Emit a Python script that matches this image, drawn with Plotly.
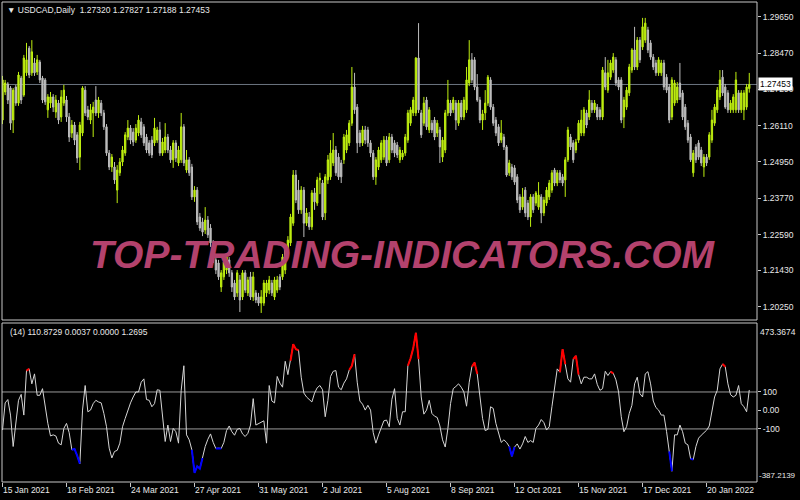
import plotly.graph_objects as go

# ---------------- data ----------------
date_tick_pos = [0, 24, 48, 72, 96, 120, 144, 168, 192, 216, 240, 264]
date_labels = ['15 Jan 2021', '18 Feb 2021', '24 Mar 2021', '27 Apr 2021', '31 May 2021',
               '2 Jul 2021', '5 Aug 2021', '8 Sep 2021', '12 Oct 2021', '15 Nov 2021',
               '17 Dec 2021', '20 Jan 2022']

price_ticks = [1.29650, 1.28470, 1.27290, 1.26110, 1.24950, 1.23770, 1.22590, 1.21430, 1.20250]
cci_ticks = [100, 0, -100]
cci_tick_text = ['100', '0.00', '-100']
cci_max, cci_min = 473.3674, -387.2139
last_price = 1.27453

open_ = [
    1.2630, 1.2721, 1.2747, 1.2734, 1.2630, 1.2737, 1.2685, 1.2766, 1.2711, 1.2783,
    1.2863, 1.2783, 1.2815, 1.2786, 1.2818, 1.2766, 1.2760, 1.2663, 1.2685, 1.2705,
    1.2656, 1.2685, 1.2640, 1.2685, 1.2695, 1.2640, 1.2588, 1.2614, 1.2582, 1.2510,
    1.2588, 1.2727, 1.2663, 1.2630, 1.2653, 1.2695, 1.2653, 1.2685, 1.2653, 1.2608,
    1.2523, 1.2478, 1.2478, 1.2403, 1.2459, 1.2494, 1.2523, 1.2575, 1.2604, 1.2591,
    1.2565, 1.2588, 1.2624, 1.2608, 1.2575, 1.2556, 1.2565, 1.2556, 1.2565, 1.2598,
    1.2523, 1.2533, 1.2575, 1.2533, 1.2501, 1.2556, 1.2491, 1.2501, 1.2608, 1.2468,
    1.2501, 1.2478, 1.2381, 1.2403, 1.2316, 1.2300, 1.2274, 1.2306, 1.2280, 1.2232,
    1.2177, 1.2167, 1.2089, 1.2122, 1.2144, 1.2177, 1.2135, 1.2102, 1.2070, 1.2112,
    1.2057, 1.2135, 1.2070, 1.2122, 1.2057, 1.2070, 1.2057, 1.2037, 1.2037, 1.2070,
    1.2079, 1.2102, 1.2057, 1.2079, 1.2122, 1.2122, 1.2144, 1.2193, 1.2232, 1.2296,
    1.2452, 1.2403, 1.2339, 1.2403, 1.2296, 1.2316, 1.2284, 1.2394, 1.2361, 1.2436,
    1.2426, 1.2329, 1.2436, 1.2446, 1.2491, 1.2533, 1.2510, 1.2491, 1.2501, 1.2533,
    1.2556, 1.2620, 1.2737, 1.2672, 1.2588, 1.2556, 1.2598, 1.2598, 1.2556, 1.2523,
    1.2446, 1.2478, 1.2501, 1.2510, 1.2565, 1.2501, 1.2575, 1.2556, 1.2549, 1.2501,
    1.2510, 1.2523, 1.2565, 1.2620, 1.2653, 1.2653, 1.2831, 1.2653, 1.2620, 1.2695,
    1.2598, 1.2620, 1.2630, 1.2588, 1.2598, 1.2510, 1.2533, 1.2653, 1.2685, 1.2663,
    1.2685, 1.2620, 1.2685, 1.2640, 1.2663, 1.2750, 1.2825, 1.2825, 1.2737, 1.2695,
    1.2630, 1.2653, 1.2685, 1.2760, 1.2672, 1.2630, 1.2608, 1.2565, 1.2575, 1.2543,
    1.2459, 1.2478, 1.2475, 1.2446, 1.2381, 1.2348, 1.2403, 1.2361, 1.2316, 1.2381,
    1.2361, 1.2348, 1.2381, 1.2329, 1.2361, 1.2381, 1.2403, 1.2468, 1.2426, 1.2459,
    1.2446, 1.2436, 1.2501, 1.2575, 1.2556, 1.2533, 1.2565, 1.2588, 1.2588, 1.2653,
    1.2640, 1.2685, 1.2663, 1.2672, 1.2663, 1.2640, 1.2783, 1.2727, 1.2769, 1.2792,
    1.2825, 1.2760, 1.2760, 1.2640, 1.2672, 1.2718, 1.2792, 1.2857, 1.2802, 1.2889,
    1.2867, 1.2889, 1.2922, 1.2880, 1.2834, 1.2815, 1.2783, 1.2783, 1.2815, 1.2769,
    1.2737, 1.2640, 1.2685, 1.2695, 1.2750, 1.2718, 1.2672, 1.2620, 1.2575, 1.2459,
    1.2543, 1.2556, 1.2533, 1.2478, 1.2510, 1.2510, 1.2565, 1.2620, 1.2663, 1.2705,
    1.2769, 1.2737, 1.2718, 1.2663, 1.2663, 1.2663, 1.2718, 1.2663, 1.2663, 1.2672,
    1.27320]

high = [
    1.2773, 1.2760, 1.2753, 1.2740, 1.2734, 1.2744, 1.2786, 1.2773, 1.2841, 1.2880,
    1.2870, 1.2889, 1.2831, 1.2841, 1.2825, 1.2773, 1.2766, 1.2714, 1.2721, 1.2714,
    1.2711, 1.2695, 1.2727, 1.2744, 1.2708, 1.2653, 1.2630, 1.2624, 1.2591, 1.2624,
    1.2740, 1.2740, 1.2676, 1.2682, 1.2689, 1.2740, 1.2705, 1.2695, 1.2663, 1.2617,
    1.2533, 1.2520, 1.2494, 1.2484, 1.2507, 1.2546, 1.2591, 1.2630, 1.2614, 1.2604,
    1.2617, 1.2646, 1.2637, 1.2617, 1.2585, 1.2565, 1.2578, 1.2637, 1.2608, 1.2624,
    1.2572, 1.2620, 1.2585, 1.2546, 1.2565, 1.2565, 1.2546, 1.2653, 1.2617, 1.2533,
    1.2510, 1.2488, 1.2416, 1.2413, 1.2329, 1.2313, 1.2348, 1.2319, 1.2293, 1.2241,
    1.2190, 1.2177, 1.2144, 1.2183, 1.2196, 1.2186, 1.2144, 1.2112, 1.2144, 1.2128,
    1.2144, 1.2144, 1.2122, 1.2138, 1.2138, 1.2079, 1.2070, 1.2079, 1.2112, 1.2112,
    1.2125, 1.2112, 1.2122, 1.2125, 1.2131, 1.2196, 1.2222, 1.2254, 1.2326, 1.2468,
    1.2468, 1.2436, 1.2416, 1.2413, 1.2345, 1.2332, 1.2403, 1.2410, 1.2446, 1.2459,
    1.2436, 1.2455, 1.2517, 1.2565, 1.2588, 1.2546, 1.2523, 1.2501, 1.2585, 1.2598,
    1.2630, 1.2802, 1.2783, 1.2682, 1.2598, 1.2611, 1.2611, 1.2608, 1.2565, 1.2533,
    1.2510, 1.2543, 1.2565, 1.2578, 1.2578, 1.2588, 1.2585, 1.2565, 1.2559, 1.2543,
    1.2533, 1.2585, 1.2663, 1.2672, 1.2705, 1.2834, 1.2944, 1.2663, 1.2705, 1.2705,
    1.2672, 1.2630, 1.2640, 1.2630, 1.2608, 1.2575, 1.2663, 1.2760, 1.2695, 1.2705,
    1.2695, 1.2695, 1.2695, 1.2705, 1.2802, 1.2889, 1.2847, 1.2834, 1.2779, 1.2705,
    1.2663, 1.2727, 1.2776, 1.2769, 1.2682, 1.2640, 1.2617, 1.2630, 1.2585, 1.2549,
    1.2501, 1.2488, 1.2484, 1.2455, 1.2390, 1.2410, 1.2413, 1.2371, 1.2390, 1.2390,
    1.2400, 1.2429, 1.2390, 1.2381, 1.2413, 1.2436, 1.2468, 1.2475, 1.2468, 1.2468,
    1.2455, 1.2510, 1.2608, 1.2585, 1.2565, 1.2569, 1.2630, 1.2663, 1.2672, 1.2663,
    1.2727, 1.2695, 1.2695, 1.2682, 1.2672, 1.2802, 1.2834, 1.2825, 1.2825, 1.2847,
    1.2834, 1.2769, 1.2769, 1.2705, 1.2737, 1.2812, 1.2863, 1.2932, 1.2899, 1.2899,
    1.2961, 1.2961, 1.2932, 1.2889, 1.2844, 1.2825, 1.2834, 1.2825, 1.2825, 1.2779,
    1.2747, 1.2769, 1.2760, 1.2753, 1.2815, 1.2727, 1.2682, 1.2630, 1.2585, 1.2533,
    1.2552, 1.2565, 1.2543, 1.2520, 1.2520, 1.2591, 1.2663, 1.2682, 1.2737, 1.2792,
    1.2792, 1.2747, 1.2727, 1.2695, 1.2714, 1.2786, 1.2727, 1.2727, 1.2727, 1.2747,
    1.27827]

low = [
    1.2617, 1.2711, 1.2682, 1.2598, 1.2588, 1.2676, 1.2676, 1.2682, 1.2705, 1.2773,
    1.2766, 1.2773, 1.2773, 1.2776, 1.2750, 1.2685, 1.2679, 1.2637, 1.2669, 1.2656,
    1.2637, 1.2617, 1.2624, 1.2676, 1.2624, 1.2559, 1.2572, 1.2549, 1.2491, 1.2468,
    1.2578, 1.2643, 1.2630, 1.2617, 1.2575, 1.2643, 1.2637, 1.2643, 1.2598, 1.2514,
    1.2468, 1.2462, 1.2423, 1.2361, 1.2449, 1.2481, 1.2514, 1.2565, 1.2552, 1.2546,
    1.2556, 1.2578, 1.2572, 1.2546, 1.2523, 1.2514, 1.2507, 1.2546, 1.2556, 1.2514,
    1.2514, 1.2523, 1.2523, 1.2491, 1.2475, 1.2494, 1.2481, 1.2491, 1.2481, 1.2459,
    1.2449, 1.2371, 1.2365, 1.2290, 1.2271, 1.2254, 1.2261, 1.2248, 1.2219, 1.2167,
    1.2131, 1.2112, 1.2073, 1.2112, 1.2131, 1.2122, 1.2073, 1.2047, 1.2057, 1.2008,
    1.2047, 1.2070, 1.2060, 1.2047, 1.2044, 1.2037, 1.2028, 1.2005, 1.2028, 1.2057,
    1.2066, 1.2060, 1.2047, 1.2070, 1.2079, 1.2112, 1.2131, 1.2183, 1.2222, 1.2287,
    1.2361, 1.2326, 1.2326, 1.2251, 1.2287, 1.2274, 1.2274, 1.2339, 1.2352, 1.2390,
    1.2306, 1.2306, 1.2423, 1.2436, 1.2481, 1.2449, 1.2436, 1.2426, 1.2488, 1.2523,
    1.2546, 1.2611, 1.2650, 1.2523, 1.2543, 1.2546, 1.2552, 1.2543, 1.2510, 1.2436,
    1.2420, 1.2468, 1.2491, 1.2501, 1.2481, 1.2491, 1.2523, 1.2510, 1.2507, 1.2491,
    1.2501, 1.2514, 1.2556, 1.2611, 1.2643, 1.2643, 1.2653, 1.2572, 1.2611, 1.2598,
    1.2588, 1.2588, 1.2565, 1.2575, 1.2491, 1.2494, 1.2523, 1.2643, 1.2643, 1.2653,
    1.2598, 1.2611, 1.2630, 1.2630, 1.2653, 1.2740, 1.2750, 1.2727, 1.2689, 1.2620,
    1.2598, 1.2630, 1.2676, 1.2663, 1.2611, 1.2578, 1.2546, 1.2556, 1.2533, 1.2446,
    1.2449, 1.2436, 1.2420, 1.2361, 1.2329, 1.2339, 1.2316, 1.2306, 1.2284, 1.2329,
    1.2352, 1.2339, 1.2296, 1.2319, 1.2352, 1.2371, 1.2394, 1.2416, 1.2416, 1.2426,
    1.2416, 1.2381, 1.2494, 1.2533, 1.2491, 1.2523, 1.2556, 1.2578, 1.2578, 1.2604,
    1.2630, 1.2653, 1.2653, 1.2630, 1.2630, 1.2630, 1.2727, 1.2718, 1.2760, 1.2783,
    1.2740, 1.2727, 1.2620, 1.2604, 1.2663, 1.2708, 1.2783, 1.2792, 1.2792, 1.2815,
    1.2857, 1.2880, 1.2847, 1.2825, 1.2792, 1.2773, 1.2773, 1.2773, 1.2727, 1.2718,
    1.2620, 1.2630, 1.2676, 1.2685, 1.2695, 1.2630, 1.2598, 1.2556, 1.2494, 1.2446,
    1.2491, 1.2501, 1.2481, 1.2446, 1.2481, 1.2501, 1.2556, 1.2611, 1.2653, 1.2695,
    1.2708, 1.2666, 1.2653, 1.2653, 1.2653, 1.2653, 1.2653, 1.2653, 1.2630, 1.2663,
    1.27188]

close = [
    1.2760, 1.2750, 1.2695, 1.2620, 1.2727, 1.2685, 1.2776, 1.2695, 1.2831, 1.2825,
    1.2776, 1.2851, 1.2783, 1.2825, 1.2760, 1.2695, 1.2689, 1.2705, 1.2705, 1.2672,
    1.2695, 1.2630, 1.2705, 1.2727, 1.2640, 1.2575, 1.2614, 1.2565, 1.2507, 1.2614,
    1.2734, 1.2653, 1.2640, 1.2663, 1.2672, 1.2653, 1.2695, 1.2653, 1.2608, 1.2523,
    1.2478, 1.2510, 1.2436, 1.2468, 1.2494, 1.2533, 1.2582, 1.2604, 1.2565, 1.2559,
    1.2604, 1.2630, 1.2582, 1.2556, 1.2533, 1.2523, 1.2517, 1.2604, 1.2598, 1.2523,
    1.2559, 1.2575, 1.2533, 1.2501, 1.2556, 1.2507, 1.2533, 1.2608, 1.2491, 1.2501,
    1.2459, 1.2381, 1.2403, 1.2300, 1.2280, 1.2267, 1.2306, 1.2258, 1.2232, 1.2177,
    1.2144, 1.2122, 1.2135, 1.2170, 1.2186, 1.2135, 1.2089, 1.2057, 1.2135, 1.2047,
    1.2135, 1.2079, 1.2112, 1.2057, 1.2122, 1.2047, 1.2037, 1.2057, 1.2102, 1.2102,
    1.2112, 1.2070, 1.2112, 1.2112, 1.2089, 1.2186, 1.2209, 1.2241, 1.2316, 1.2452,
    1.2371, 1.2339, 1.2403, 1.2296, 1.2329, 1.2284, 1.2394, 1.2365, 1.2436, 1.2442,
    1.2316, 1.2446, 1.2501, 1.2523, 1.2533, 1.2459, 1.2446, 1.2446, 1.2575, 1.2582,
    1.2620, 1.2737, 1.2663, 1.2556, 1.2556, 1.2598, 1.2565, 1.2556, 1.2523, 1.2446,
    1.2501, 1.2533, 1.2556, 1.2565, 1.2491, 1.2575, 1.2533, 1.2523, 1.2517, 1.2533,
    1.2523, 1.2575, 1.2653, 1.2663, 1.2695, 1.2831, 1.2663, 1.2582, 1.2685, 1.2608,
    1.2663, 1.2598, 1.2575, 1.2620, 1.2543, 1.2565, 1.2653, 1.2695, 1.2653, 1.2695,
    1.2630, 1.2685, 1.2640, 1.2695, 1.2760, 1.2825, 1.2760, 1.2737, 1.2695, 1.2630,
    1.2650, 1.2685, 1.2769, 1.2672, 1.2620, 1.2588, 1.2556, 1.2588, 1.2543, 1.2452,
    1.2491, 1.2446, 1.2429, 1.2371, 1.2339, 1.2381, 1.2329, 1.2316, 1.2381, 1.2339,
    1.2394, 1.2387, 1.2329, 1.2371, 1.2403, 1.2426, 1.2459, 1.2426, 1.2459, 1.2436,
    1.2426, 1.2501, 1.2598, 1.2543, 1.2501, 1.2559, 1.2620, 1.2630, 1.2663, 1.2614,
    1.2695, 1.2663, 1.2685, 1.2640, 1.2640, 1.2792, 1.2737, 1.2783, 1.2815, 1.2834,
    1.2750, 1.2737, 1.2630, 1.2695, 1.2727, 1.2802, 1.2857, 1.2802, 1.2889, 1.2825,
    1.2932, 1.2944, 1.2857, 1.2834, 1.2802, 1.2783, 1.2825, 1.2815, 1.2737, 1.2727,
    1.2630, 1.2760, 1.2750, 1.2737, 1.2705, 1.2640, 1.2608, 1.2565, 1.2501, 1.2523,
    1.2501, 1.2510, 1.2491, 1.2510, 1.2491, 1.2582, 1.2630, 1.2672, 1.2727, 1.2760,
    1.2718, 1.2672, 1.2663, 1.2685, 1.2705, 1.2760, 1.2663, 1.2718, 1.2718, 1.2737,
    1.27453]

cci = [
    -106, 41, 59, -25, -195, -52, 55, 87, -25, 216,
    225, 144, 198, 82, 82, 118, 16, -70, -138, -132,
    -138, -177, -186, -97, -70, -120, -213, -209, -245, -288,
    2, 135, -7, 2, 37, 55, 46, 41, -16, -88,
    -204, -257, -222, -216, -177, -88, -43, 5, 41, 73,
    100, 100, 153, 171, 59, 55, 20, 37, 112, 109,
    -16, -168, -79, -168, -97, -115, -177, 109, 242, -132,
    -159, -213, -338, -302, -315, -257, -195, -156, -127, -173,
    -206, -204, -206, -173, -109, -84, -115, -134, -102, -97,
    -127, -141, -124, -79, 64, -79, -70, -63, -56, -177,
    135, 51, 41, 184, 148, 126, 266, 194, 269, 359,
    332, 326, 180, 94, 73, 59, 46, 94, 123, 135,
    112, -34, 55, 184, 212, 216, 126, 112, 148, 171,
    219, 242, 305, 153, 51, 34, 2, 28, 2, -120,
    -177, -132, -97, -56, -52, -88, 60, 118, -43, -79,
    -7, -7, 242, 282, 337, 420, 278, 73, -20, 2,
    55, -16, -31, -38, -84, -159, -198, -97, 37, 118,
    130, 144, 126, 100, 23, 153, 237, 260, 198, 82,
    -43, -109, -102, 20, 11, -70, -124, -173, -159, -173,
    -195, -248, -198, -181, -209, -181, -141, -173, -163, -173,
    -97, -79, -49, -66, -106, -88, 20, 126, 225, 207,
    332, 251, 171, 153, 278, 296, 194, 144, 180, 180,
    171, 171, 198, 141, 109, 118, 212, 189, 210, 201,
    166, 100, -34, -115, -88, -16, 28, 144, 180, 91,
    73, 198, 210, 144, 51, 16, 2, -25, -25, -115,
    -222, -329, -132, -132, -79, -115, -177, -186, -261, -266,
    -195, -150, -134, -120, -107, -84, 2, 73, 109, 225,
    251, 237, 144, 85, 73, 82, 135, 37, 20, -7,
    110.8729]

# bars where the CCI line is drawn red (overbought) / blue (oversold)
red_spans = [(9, 10), (108, 111), (130, 132), (152, 156), (176, 178),
             (209, 211), (214, 216), (228, 229), (270, 271)]
blue_spans = [(26, 29), (71, 75), (80, 82), (190, 192), (250, 251), (258, 259)]

bars = list(range(len(close)))

# ---------------- style ----------------
BULL = '#BEEE10'
BEAR = '#BDBDBD'
FONT = 'Liberation Sans, Arial, sans-serif'
FS = 8.5
TXT = '#E8E8E8'
FRAME = '#C8C8C8'

fig = go.Figure()

fig.add_trace(go.Candlestick(
    x=bars, open=open_, high=high, low=low, close=close,
    increasing=dict(line=dict(color=BULL, width=1), fillcolor=BULL),
    decreasing=dict(line=dict(color=BEAR, width=1), fillcolor=BEAR),
    whiskerwidth=0, xaxis='x', yaxis='y', showlegend=False, hoverinfo='skip'))

fig.add_trace(go.Scatter(x=bars, y=cci, mode='lines', xaxis='x2', yaxis='y2',
                         line=dict(color='#D6D6D6', width=1), showlegend=False,
                         hoverinfo='skip'))

for spans, col in ((red_spans, '#FF0000'), (blue_spans, '#0000FF')):
    for s, e in spans:
        fig.add_trace(go.Scatter(x=bars[s:e + 1], y=cci[s:e + 1], mode='lines',
                                 xaxis='x2', yaxis='y2', line=dict(color=col, width=2),
                                 showlegend=False, hoverinfo='skip'))

main_dom = [0.3375, 1.0]
ind_dom = [0.0, 0.33125]
x_range = [-0.19, 282.9]

fig.update_layout(
    width=800, height=500,
    paper_bgcolor='black', plot_bgcolor='black',
    margin=dict(l=2, r=43, t=2, b=18, pad=0),
    font=dict(family=FONT, size=FS, color=TXT),
    showlegend=False,
    xaxis=dict(domain=[0, 1], range=x_range, anchor='y', showticklabels=False,
               showgrid=False, zeroline=False, ticks='', rangeslider=dict(visible=False),
               fixedrange=True),
    yaxis=dict(domain=main_dom, range=[1.19822, 1.30125], side='right', anchor='x',
               tickvals=price_ticks, ticktext=[f'{v:.5f}' for v in price_ticks],
               ticks='outside', ticklen=3, tickcolor=FRAME, showgrid=False,
               zeroline=False, tickfont=dict(family=FONT, size=FS, color=TXT)),
    xaxis2=dict(domain=[0, 1], range=x_range, anchor='y2', matches='x',
                tickvals=date_tick_pos, ticktext=date_labels, ticks='outside',
                ticklen=4, tickcolor=FRAME, ticklabelposition='outside right',
                showgrid=False, zeroline=False,
                tickfont=dict(family=FONT, size=FS, color=TXT)),
    yaxis2=dict(domain=ind_dom, range=[cci_min, cci_max], side='right', anchor='x2',
                tickvals=cci_ticks, ticktext=cci_tick_text, ticks='outside',
                ticklen=3, tickcolor=FRAME, showgrid=False, zeroline=False,
                tickfont=dict(family=FONT, size=FS, color=TXT)),
)

shapes = [
    dict(type='rect', xref='paper', yref='paper', x0=0, x1=1, y0=main_dom[0], y1=main_dom[1],
         line=dict(color=FRAME, width=1), layer='above'),
    dict(type='rect', xref='paper', yref='paper', x0=0, x1=1, y0=ind_dom[0], y1=ind_dom[1],
         line=dict(color=FRAME, width=1), layer='above'),
    dict(type='line', xref='paper', yref='y', x0=0, x1=1, y0=last_price, y1=last_price,
         line=dict(color='#6B7580', width=1), layer='below'),
]
for lv in (100, -100):
    shapes.append(dict(type='line', xref='paper', yref='y2', x0=0, x1=1, y0=lv, y1=lv,
                       line=dict(color='#9A9A9A', width=1), layer='below'))
fig.update_layout(shapes=shapes)

ann = [
    dict(xref='paper', yref='paper', x=0.531, y=0.474,
         text='<b><i>TOP-TRADING-INDICATORS.COM</i></b>', showarrow=False,
         font=dict(family=FONT, size=39, color='#B3426D')),
    dict(xref='paper', yref='paper', x=0, y=1, xanchor='left', yanchor='top',
         xshift=3, yshift=-1, showarrow=False,
         text='\u25BC USDCAD,Daily  1.27320 1.27827 1.27188 1.27453',
         font=dict(family=FONT, size=FS, color=TXT)),
    dict(xref='paper', yref='paper', x=0, y=ind_dom[1], xanchor='left', yanchor='top',
         xshift=6, yshift=-2, showarrow=False,
         text='(14) 110.8729 0.0037 0.0000 1.2695',
         font=dict(family=FONT, size=FS, color=TXT)),
    dict(xref='paper', yref='y', x=1, y=last_price, xanchor='left', yanchor='middle',
         xshift=1, showarrow=False, text=f'{last_price:.5f}', bgcolor='white',
         borderpad=1, font=dict(family=FONT, size=FS, color='black')),
    dict(xref='paper', yref='y2', x=1, y=cci_max, xanchor='left', yanchor='top',
         xshift=1, yshift=-2, showarrow=False, text=f'{cci_max:.4f}',
         font=dict(family=FONT, size=FS, color=TXT)),
    dict(xref='paper', yref='y2', x=1, y=cci_min, xanchor='left', yanchor='bottom',
         xshift=0, showarrow=False, text=f'{cci_min:.4f}',
         font=dict(family=FONT, size=8, color=TXT)),
]
fig.update_layout(annotations=ann)

fig.write_html('out.html',
               config={'displayModeBar': False, 'staticPlot': True},
               post_script="document.body.style.margin='0';document.body.style.padding='0';"
                           "document.body.style.background='black';")
